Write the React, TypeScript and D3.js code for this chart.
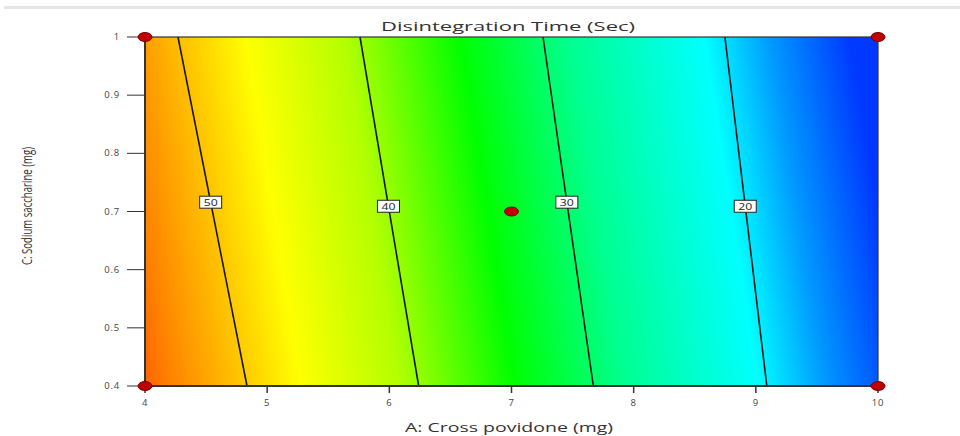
import React from "react";
import * as d3 from "d3";

// ---- data ----
const xTicks = [4, 5, 6, 7, 8, 9, 10];
const yTicks = [0.4, 0.5, 0.6, 0.7, 0.8, 0.9, 1];
const contourLevels = [50, 40, 30, 20];
const contourATop = [4.27, 5.76, 7.258, 8.747]; // A where contour meets C = 1
const contourABottom = [4.835, 6.24, 7.67, 9.09]; // A where contour meets C = 0.4
const labelC = [0.716, 0.709, 0.716, 0.709];
// colour stops along the middle row (A value -> colour)
const stopA = [3.6, 4.0, 5.05, 5.85, 6.8, 7.7, 8.8, 9.35, 10.0];
const stopColor = ["#ff4a00", "#ff8400", "#ffff00", "#b4ff00", "#00ff00", "#00ff90", "#00ffff", "#0098ff", "#0038ff"];
const designPointsA = [4, 10, 4, 10, 7];
const designPointsC = [1, 1, 0.4, 0.4, 0.7];

const W = 960, H = 436;
const x = d3.scaleLinear().domain([4, 10]).range([145, 878]);
const y = d3.scaleLinear().domain([0.4, 1]).range([386, 37]);

export default function App() {
  const dxs = contourATop.map((a, i) => x(contourABottom[i]) - x(a));
  const avgDx = d3.mean(dxs) as number;
  const dy = y(0.4) - y(1);
  const len = Math.hypot(avgDx, dy);
  const ux = dy / len, uy = -avgDx / len;
  const yMid = y(0.7);
  const xs = x(stopA[0]), xe = x(stopA[stopA.length - 1]);
  const span = xe - xs;
  const g1x = xs + ux * span * ux, g1y = yMid + uy * span * ux;
  const offsets = stopA.map((a) => (x(a) - xs) / span);

  const labelPos = (i: number) => {
    const c = labelC[i];
    const t = (1 - c) / 0.6;
    const a = contourATop[i] + t * (contourABottom[i] - contourATop[i]);
    return { lx: x(a), ly: y(c) };
  };

  return (
    <svg width={W} height={H} style={{ position: "absolute", left: 0, top: 0, background: "#fff" }}
      fontFamily="'Open Sans', 'DejaVu Sans', sans-serif">
      <defs>
        <linearGradient id="surf" gradientUnits="userSpaceOnUse" x1={xs} y1={yMid} x2={g1x} y2={g1y}>
          {offsets.map((o, i) => (
            <stop key={i} offset={o} stopColor={stopColor[i]} />
          ))}
        </linearGradient>
      </defs>
      <rect x={4} y={6} width={956} height={3} fill="#e6e6e6" />
      <text x={508} y={31} textAnchor="middle" fontSize={13} fill="#333" textLength={254}
        lengthAdjust="spacingAndGlyphs">Disintegration Time (Sec)</text>
      <rect x={x(4)} y={y(1)} width={x(10) - x(4)} height={y(0.4) - y(1)} fill="url(#surf)" />
      {contourLevels.map((lv, i) => (
        <line key={lv} x1={x(contourATop[i])} y1={y(1)} x2={x(contourABottom[i])} y2={y(0.4)}
          stroke="#151515" strokeWidth={1.6} />
      ))}
      {contourLevels.map((lv, i) => {
        const { lx, ly } = labelPos(i);
        return (
          <g key={"l" + lv}>
            <rect x={lx - 11} y={ly - 6} width={22} height={12} fill="#fff" stroke="#222" strokeWidth={1} />
            <text x={lx} y={ly + 3.5} textAnchor="middle" fontSize={9.5} fill="#222" textLength={14}
              lengthAdjust="spacingAndGlyphs">{lv}</text>
          </g>
        );
      })}
      <rect x={x(4)} y={y(1)} width={x(10) - x(4)} height={y(0.4) - y(1)} fill="none" stroke="#333" strokeWidth={1.2} />
      <line x1={x(4)} y1={y(1)} x2={x(4)} y2={y(0.4)} stroke="#333" strokeWidth={2} />
      <line x1={x(4)} y1={y(0.4)} x2={x(10)} y2={y(0.4)} stroke="#333" strokeWidth={2} />
      {yTicks.map((t) => (
        <g key={"y" + t}>
          <line x1={127} x2={x(4)} y1={y(t)} y2={y(t)} stroke="#333" strokeWidth={1} />
          <text x={120} y={y(t) + 3} textAnchor="end" fontSize={9.5} fill="#444" letterSpacing={0.8}>{t}</text>
        </g>
      ))}
      {xTicks.map((t) => (
        <g key={"x" + t}>
          <line x1={x(t)} x2={x(t)} y1={y(0.4)} y2={393} stroke="#333" strokeWidth={1.5} />
          <text x={x(t)} y={406} textAnchor="middle" fontSize={9.5} fill="#444" letterSpacing={0.8}>{t}</text>
        </g>
      ))}
      {designPointsA.map((a, i) => (
        <ellipse key={"p" + i} cx={x(a)} cy={y(designPointsC[i])} rx={7} ry={4.5} fill="#c00000" stroke="#7a0000" strokeWidth={1} />
      ))}
      <text x={509} y={432} textAnchor="middle" fontSize={13} fill="#333" textLength={208}
        lengthAdjust="spacingAndGlyphs">A: Cross povidone  (mg)</text>
      <text transform={`translate(32,206) rotate(-90)`} textAnchor="middle" fontSize={15}
        fill="#333" textLength={118} lengthAdjust="spacingAndGlyphs">C: Sodium saccharine (mg)</text>
    </svg>
  );
}
